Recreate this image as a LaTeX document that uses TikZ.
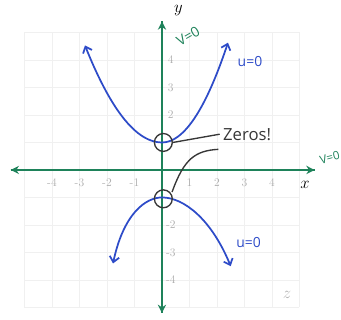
\documentclass[tikz,border=0pt]{standalone}
\usepackage{fontspec}
\newfontfamily\handfont{Open Sans}
\usepackage{tikz}
\usetikzlibrary{arrows.meta,positioning,calc}
\definecolor{axisgreen}{RGB}{30,130,90}
\definecolor{penblue}{RGB}{45,75,200}
\definecolor{pengray}{RGB}{55,55,55}

\begin{document}
\begin{tikzpicture}[
    axis/.style={axisgreen, line width=2.2pt, -{Stealth[open, length=3mm, width=3mm]}},
    curve/.style={penblue, line width=1.8pt, {Straight Barb[length=2mm, width=3.5mm]}-{Straight Barb[length=2mm, width=3.5mm]}},
    zero/.style={draw=pengray, line width=1.4pt, circle, minimum size=0.65cm, inner sep=0pt},
    pointer/.style={pengray, line width=1.4pt},
    ticklbl/.style={gray!65, font=\large},
    hand/.style={font=\handfont\Large}
]
    \useasboundingbox (-5.89,-5.45) rectangle (6.51,6.18);

    % Grid
    \draw[gray!12, line width=0.5pt] (-5,-5) grid (5,5);

    % Axes
    \coordinate (xl) at (-5.5,0);
    \coordinate (xr) at (5.55,0);
    \coordinate (yb) at (0,-5.2);
    \coordinate (yt) at (0,5.4);
    \draw[axis] (xr) -- (xl);
    \draw[axis] (xl) -- (xr);
    \draw[axis] (yt) -- (yb);
    \draw[axis] (yb) -- (yt);
    \node[font=\LARGE] (xlbl) at (5.2,-0.55) {$x$};
    \node[font=\LARGE] (ylbl) at (0.6,5.78) {$y$};
    \node[gray!60, font=\LARGE] (zlbl) at (4.55,-4.55) {$z$};

    % Tick labels
    \foreach \i in {-4,-3,-2,-1,1,2,3,4}
        \node[ticklbl] at (\i,-0.45) {\i};
    \foreach \i in {-4,-3,-2,2,3,4}
        \node[ticklbl] at (0.32,\i) {\i};

    % Curves
    \draw[curve] plot[domain=-2.8:0, samples=30] (\x,{1+0.45*\x*\x})
        -- plot[domain=0:2.4, samples=30] (\x,{1+0.63*\x*\x});
    \draw[curve] (-1.78,-3.4) .. controls (-1.4,-1.6) and (-0.6,-1.0) .. (0,-1)
        .. controls (0.8,-1.0) and (1.8,-1.8) .. (2.5,-3.5);

    % Labels
    \node[hand, axisgreen, rotate=30, inner sep=0pt] (v0top) at (0.95,4.85) {V=0};
    \node[hand, axisgreen, rotate=15, font=\handfont\large] (v0right) at (6.1,0.45) {V=0};
    \node[hand, penblue] (u0top) at (3.2,3.95) {u=0};
    \node[hand, penblue] (u0bot) at (3.15,-2.65) {u=0};

    % Zeros
    \node[zero] (ztop) at (0.05,1) {};
    \node[zero] (zbot) at (0.05,-1.05) {};
    \node[hand, pengray, font=\handfont\LARGE, anchor=west] (zeros) at (2.1,1.3) {Zeros!};
    \draw[pointer] (ztop.east) -- (zeros.west);
    \draw[pointer] ([xshift=2pt]zbot.north east) .. controls (0.8,0.4) and (1.2,0.7) .. (2.05,0.75);
\end{tikzpicture}
\end{document}
